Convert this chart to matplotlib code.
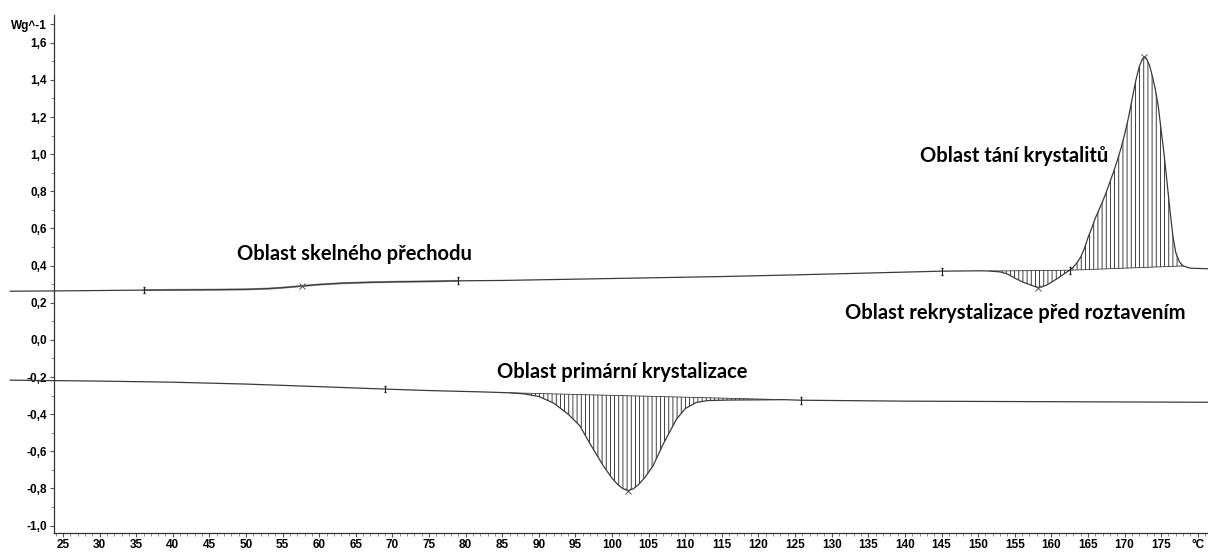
import numpy as np
import matplotlib
matplotlib.use("Agg")
import matplotlib.pyplot as plt
from matplotlib.ticker import MultipleLocator

# heating scan (upper curve), temperature in degC and heat flow in W/g
heat_T = [17.8, 25, 36, 45, 50, 53, 55, 57.6, 60, 63, 67, 71, 75, 79, 85, 95, 105, 115,
          125, 135, 145, 150, 151.5, 153, 154, 155, 156, 157, 157.7, 158.2, 158.7, 159.3,
          160, 161, 161.6, 162.5, 163, 163.5, 164, 164.5, 165, 165.5, 166, 166.5, 167,
          167.5, 168, 168.5, 169, 169.5, 170, 170.5, 171, 171.5, 172, 172.4, 172.7, 173,
          173.4, 173.8, 174.2, 174.6, 175, 175.4, 175.8, 176.2, 176.6, 177, 177.5, 178,
          179, 181.4]
heat_W = [0.262, 0.264, 0.268, 0.270, 0.272, 0.276, 0.281, 0.290, 0.298, 0.305, 0.310,
          0.313, 0.315, 0.318, 0.320, 0.327, 0.334, 0.341, 0.350, 0.360, 0.370, 0.372,
          0.371, 0.366, 0.355, 0.333, 0.313, 0.298, 0.288, 0.282, 0.285, 0.294,
          0.310, 0.335, 0.352, 0.375, 0.392, 0.415, 0.445, 0.49, 0.55, 0.60, 0.655, 0.70,
          0.745, 0.795, 0.85, 0.905, 0.965, 1.03, 1.105, 1.19, 1.29, 1.39, 1.47, 1.51,
          1.525, 1.515, 1.48, 1.42, 1.35, 1.26, 1.13, 1.0, 0.85, 0.70, 0.56, 0.47, 0.42,
          0.398, 0.386, 0.383]

# cooling scan (lower curve)
cool_T = [17.8, 30, 40, 50, 60, 69, 75, 82, 86, 88, 90, 92, 94, 95.6, 97, 98.8, 100,
          100.8, 101.5, 102.2, 102.9, 103.6, 104.5, 105.6, 107, 108.8, 110, 111.5, 113,
          116, 120, 123.5, 125.8, 140, 160, 181.4]
cool_W = [-0.217, -0.222, -0.228, -0.238, -0.252, -0.265, -0.273, -0.280, -0.285, -0.291,
          -0.305, -0.34, -0.40, -0.463, -0.56, -0.678, -0.745, -0.78, -0.802, -0.812,
          -0.802, -0.78, -0.74, -0.678, -0.56, -0.427, -0.37, -0.337, -0.327,
          -0.324, -0.323, -0.322, -0.325, -0.330, -0.333, -0.336]

# integration limits (start, end) of the evaluated regions
glass_lim = (36, 79)
recryst_lim = (151.5, 162.5)
melt_lim = (162.5, 178.0)
cryst_lim = (84, 123.5)
cryst_lim_marks = (69, 125.8)
melt_lim_marks = (145, 162.5)

# peak / midpoint markers
cross_T = [57.6, 158.2, 172.7]
cross_T_cool = [102.2]

y_ticks = [1.6, 1.4, 1.2, 1.0, 0.8, 0.6, 0.4, 0.2, 0.0, -0.2, -0.4, -0.6, -0.8, -1.0]
y_ticklabels = ["1,6", "1,4", "1,2", "1,0", "0,8", "0,6", "0,4", "0,2", "0,0",
                "-0,2", "-0,4", "-0,6", "-0,8", "-1,0"]
x_ticks = list(range(25, 180, 5))

labels = [
    ("Oblast skelného přechodu", 48.8, 0.46),
    ("Oblast tání krystalitů", 142.1, 0.99),
    ("Oblast rekrystalizace před roztavením", 131.8, 0.143),
    ("Oblast primární krystalizace", 84.3, -0.174),
]

plt.rcParams["hatch.linewidth"] = 0.6

fig = plt.figure(figsize=(12.08, 5.53), dpi=100)
ax = fig.add_axes([0.0447, 0.0362, 0.9553, 0.9368])

heat_T = np.array(heat_T)
heat_W = np.array(heat_W)
cool_T = np.array(cool_T)
cool_W = np.array(cool_W)
lc = "#3a3a3a"

ax.plot(heat_T, heat_W, color=lc, lw=0.9, clip_on=False, zorder=3)
ax.plot(cool_T, cool_W, color=lc, lw=0.9, clip_on=False, zorder=3)

# glass transition evaluation overlay
m = (heat_T >= glass_lim[0]) & (heat_T <= glass_lim[1])
ax.plot(heat_T[m], heat_W[m], color="#9a9a9a", lw=1.5, zorder=2)


def hatch_region(T, W, lim):
    m = (T >= lim[0]) & (T <= lim[1])
    t = T[m]
    w = W[m]
    base = np.interp(t, [t[0], t[-1]], [w[0], w[-1]])
    ax.fill_between(t, w, base, facecolor="none", edgecolor="#202020",
                    hatch="||||", linewidth=0, zorder=1)
    ax.plot([t[0], t[-1]], [w[0], w[-1]], color=lc, lw=0.6, zorder=2)


hatch_region(heat_T, heat_W, recryst_lim)
hatch_region(heat_T, heat_W, melt_lim)
hatch_region(cool_T, cool_W, cryst_lim)

# integration limit marks
for t in [glass_lim[0], glass_lim[1], melt_lim_marks[0], melt_lim_marks[1]]:
    ax.errorbar(t, np.interp(t, heat_T, heat_W), yerr=0.018, fmt="none",
                ecolor="#222222", elinewidth=0.8, capsize=1.0, zorder=4)
for t in cryst_lim_marks:
    ax.errorbar(t, np.interp(t, cool_T, cool_W), yerr=0.018, fmt="none",
                ecolor="#222222", elinewidth=0.8, capsize=1.0, zorder=4)

ax.plot(cross_T, np.interp(cross_T, heat_T, heat_W), ls="none", marker="x",
        ms=4, mew=0.7, color="#555555", zorder=4)
ax.plot(cross_T_cool, np.interp(cross_T_cool, cool_T, cool_W), ls="none", marker="x",
        ms=4, mew=0.7, color="#555555", zorder=4)

for txt, x, y in labels:
    ax.text(x, y, txt, fontsize=14.5, fontweight="bold", family="Lato",
            ha="left", va="center", color="black")

ax.set_xlim(23.77, 181.4)
ax.set_ylim(-1.04, 1.75)

ax.set_xticks(x_ticks + [180])
ax.set_xticklabels([str(v) for v in x_ticks] + ["°C"])
ax.xaxis.set_minor_locator(MultipleLocator(1))
ax.set_yticks(y_ticks + [1.7])
ax.set_yticklabels(y_ticklabels + ["Wg^-1"])
ax.yaxis.set_minor_locator(MultipleLocator(0.1))

for lab in ax.get_xticklabels() + ax.get_yticklabels():
    lab.set_fontfamily("Liberation Sans")
    lab.set_fontweight("bold")
    lab.set_fontsize(8.5)

ax.tick_params(axis="both", which="major", length=3, width=0.8, color="#555555", pad=2)
ax.tick_params(axis="both", which="minor", length=2, width=0.6, color="#777777")
ax.tick_params(axis="x", which="major", pad=1.5)

for s in ["top", "right"]:
    ax.spines[s].set_visible(False)
for s in ["left", "bottom"]:
    ax.spines[s].set_color("#333333")
    ax.spines[s].set_linewidth(0.9)

fig.savefig("out.png", dpi=100)
